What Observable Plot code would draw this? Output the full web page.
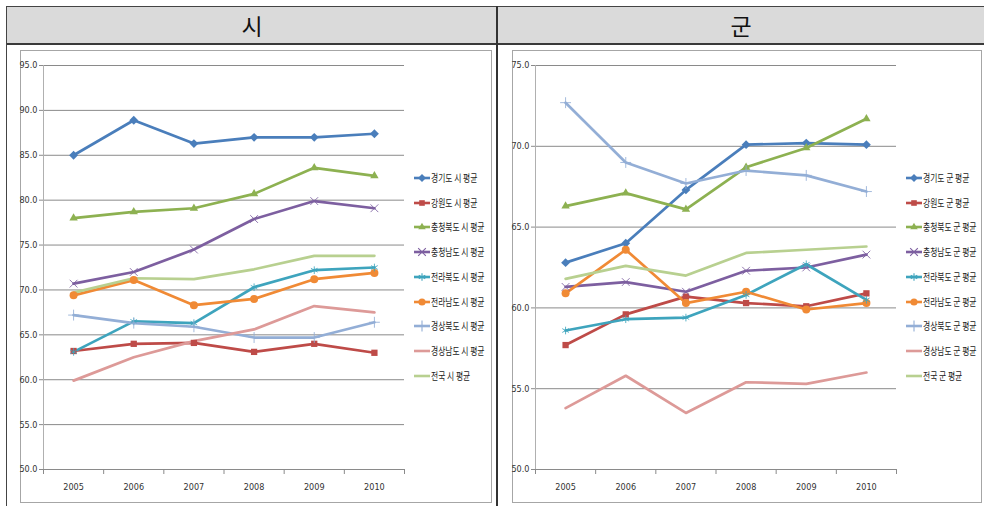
<!DOCTYPE html>
<html><head><meta charset="utf-8">
<script src="https://cdn.jsdelivr.net/npm/d3@7"></script>
<script src="https://cdn.jsdelivr.net/npm/@observablehq/plot@0.6"></script>
<style>
html,body{margin:0;padding:0;background:#fff;}
body{width:984px;height:506px;overflow:hidden;position:relative;font-family:"Noto Sans CJK KR","Noto Sans",sans-serif;}
.abs{position:absolute;}
.hdr{position:absolute;top:7px;height:36px;line-height:36px;text-align:center;font-size:23px;color:#111;}
.leg{position:absolute;height:14px;line-height:14px;font-size:10.5px;color:#222;white-space:nowrap;}
.leg svg{position:absolute;left:0;top:1px;}
.leg span{position:absolute;left:17px;top:0;display:inline-block;transform:scaleX(0.74);transform-origin:0 50%;}
</style></head><body>
<script>
// ---------- data ----------
const years = [2005, 2006, 2007, 2008, 2009, 2010];
const provinces = ["경기도", "강원도", "충청북도", "충청남도", "전라북도", "전라남도", "경상북도", "경상남도", "전국"];
const colors = ["#4a7ebb", "#be4b48", "#8db151", "#7d5fa0", "#3ea4bd", "#f08a35", "#93aed6", "#dd9a98", "#b8d090"];
const symbols = ["diamond2", "square2", "triangle2", "times", "asterisk", "circle", "plus", null, null];

// 시 평균
const si_gyeonggi  = [85.0, 88.9, 86.3, 87.0, 87.0, 87.4];
const si_gangwon   = [63.2, 64.0, 64.1, 63.1, 64.0, 63.0];
const si_chungbuk  = [78.0, 78.7, 79.1, 80.7, 83.6, 82.7];
const si_chungnam  = [70.7, 72.0, 74.5, 77.9, 79.9, 79.1];
const si_jeonbuk   = [63.1, 66.5, 66.3, 70.3, 72.2, 72.5];
const si_jeonnam   = [69.4, 71.1, 68.3, 69.0, 71.2, 71.9];
const si_gyeongbuk = [67.2, 66.3, 65.9, 64.7, 64.7, 66.4];
const si_gyeongnam = [59.9, 62.5, 64.3, 65.6, 68.2, 67.5];
const si_national  = [69.7, 71.3, 71.2, 72.3, 73.8, 73.8];

// 군 평균
const gun_gyeonggi  = [62.8, 64.0, 67.3, 70.1, 70.2, 70.1];
const gun_gangwon   = [57.7, 59.6, 60.7, 60.3, 60.1, 60.9];
const gun_chungbuk  = [66.3, 67.1, 66.1, 68.7, 69.9, 71.7];
const gun_chungnam  = [61.3, 61.6, 61.0, 62.3, 62.5, 63.3];
const gun_jeonbuk   = [58.6, 59.3, 59.4, 60.8, 62.7, 60.5];
const gun_jeonnam   = [60.9, 63.6, 60.3, 61.0, 59.9, 60.3];
const gun_gyeongbuk = [72.7, 69.0, 67.7, 68.5, 68.2, 67.2];
const gun_gyeongnam = [53.8, 55.8, 53.5, 55.4, 55.3, 56.0];
const gun_national  = [61.8, 62.6, 62.0, 63.4, 63.6, 63.8];

const siTicks  = [50, 55, 60, 65, 70, 75, 80, 85, 90, 95];
const gunTicks = [50, 55, 60, 65, 70, 75];

const siValues  = [si_gyeonggi, si_gangwon, si_chungbuk, si_chungnam, si_jeonbuk, si_jeonnam, si_gyeongbuk, si_gyeongnam, si_national];
const gunValues = [gun_gyeonggi, gun_gangwon, gun_chungbuk, gun_chungnam, gun_jeonbuk, gun_jeonnam, gun_gyeongbuk, gun_gyeongnam, gun_national];

// ---------- layout helpers ----------
function box(l, t, w, h, style) {
  const d = document.createElement("div");
  d.className = "abs";
  Object.assign(d.style, {left: l + "px", top: t + "px", width: w + "px", height: h + "px"}, style);
  document.body.appendChild(d);
  return d;
}

// table structure
box(7, 7, 977, 36, {background: "#dadada"});
box(7, 6, 977, 1, {background: "#444"});
box(7, 43, 977, 2, {background: "#3a3a3a"});
box(6, 6, 1, 500, {background: "#444"});
box(496, 6, 2, 500, {background: "#333"});
const h1 = document.createElement("div"); h1.className = "hdr"; h1.style.left = "7px"; h1.style.width = "490px"; h1.textContent = "시"; document.body.appendChild(h1);
const h2 = document.createElement("div"); h2.className = "hdr"; h2.style.left = "498px"; h2.style.width = "486px"; h2.textContent = "군"; document.body.appendChild(h2);

const symMap = {
  diamond2: d3.symbolDiamond2, square2: d3.symbolSquare2, triangle2: d3.symbolTriangle2,
  times: d3.symbolTimes, asterisk: d3.symbolAsterisk, circle: d3.symbolCircle, plus: d3.symbolPlus
};
const filledSyms = new Set(["diamond2", "square2", "triangle2", "circle"]);

function panel(left, width, values, ticks, suffix, legendX) {
  // frame
  box(left, 50, width, 453, {border: "1px solid #a6a6a6", boxSizing: "border-box"});
  const names = provinces.map(p => p + " " + suffix + " 평균");
  const data = [];
  names.forEach((s, i) => years.forEach((yr, j) => data.push({series: s, year: yr, value: values[i][j], i})));
  const yDomain = [ticks[0], ticks[ticks.length - 1]];
  const bounds = [...years.map(y => y - 0.5), years[years.length - 1] + 0.5];
  const filled = data.filter(d => symbols[d.i] && filledSyms.has(symbols[d.i]));
  const stroked = data.filter(d => symbols[d.i] && !filledSyms.has(symbols[d.i]));
  const chart = Plot.plot({
    width: width, height: 453,
    marginLeft: 23, marginRight: width - 23 - 361, marginTop: 15, marginBottom: 34,
    style: {fontFamily: "'Liberation Sans Narrow','DejaVu Sans Condensed',sans-serif", fontSize: "9px", color: "#333", background: "transparent", overflow: "visible"},
    x: {type: "linear", domain: [2004.5, 2010.5]},
    y: {domain: yDomain},
    color: {domain: names, range: colors},
    symbol: {domain: names, range: symbols.map(s => s || "circle")},
    marks: [
      Plot.ruleY(ticks.slice(1), {y: d => d, stroke: "#8a8a8a", strokeWidth: 1, strokeOpacity: 1}),
      Plot.ruleX([2004.5], {stroke: "#b0b0b0", strokeWidth: 1}),
      Plot.ruleY([ticks[0]], {stroke: "#8a8a8a", strokeWidth: 1}),
      Plot.axisY({ticks: ticks, tickFormat: d => d.toFixed(1), tickSize: 4, tickPadding: 2, stroke: "#8a8a8a", label: null, fill: "#333"}),
      Plot.axisX({ticks: bounds, tickFormat: () => "", tickSize: 5, stroke: "#8a8a8a", label: null}),
      Plot.axisX({ticks: years, tickFormat: d => String(d), tickSize: 0, tickPadding: 14, label: null, fill: "#333"}),
      Plot.line(data, {x: "year", y: "value", z: "series", stroke: "series", strokeWidth: 2.7, strokeLinejoin: "round", strokeLinecap: "round"}),
      Plot.dot(filled, {x: "year", y: "value", symbol: "series", fill: "series", stroke: "none", r: 4}),
      Plot.dot(stroked, {x: "year", y: "value", symbol: "series", stroke: "series", fill: "none", r: 3.6, strokeWidth: 1, strokeOpacity: 0.85})
    ]
  });
  chart.style.position = "absolute";
  chart.style.left = left + "px";
  chart.style.top = "50px";
  document.body.appendChild(chart);

  // legend
  names.forEach((name, i) => {
    const row = document.createElement("div");
    row.className = "leg";
    row.style.left = legendX + "px";
    row.style.top = (171 + i * 24.7) + "px";
    row.style.width = "72px";
    const svg = d3.create("svg").attr("width", 17).attr("height", 12);
    svg.append("line").attr("x1", 0).attr("x2", 16).attr("y1", 6).attr("y2", 6)
      .attr("stroke", colors[i]).attr("stroke-width", 2.6);
    const s = symbols[i];
    if (s) {
      const p = d3.symbol().type(symMap[s]).size(40)();
      const path = svg.append("path").attr("d", p).attr("transform", "translate(8,6)");
      if (filledSyms.has(s)) path.attr("fill", colors[i]);
      else path.attr("fill", "none").attr("stroke", colors[i]).attr("stroke-width", 1.1);
    }
    row.appendChild(svg.node());
    const span = document.createElement("span");
    span.textContent = name;
    row.appendChild(span);
    document.body.appendChild(row);
  });
}

panel(20, 472, siValues, siTicks, "시", 414);
panel(512, 470, gunValues, gunTicks, "군", 906);
</script>
</body></html>
